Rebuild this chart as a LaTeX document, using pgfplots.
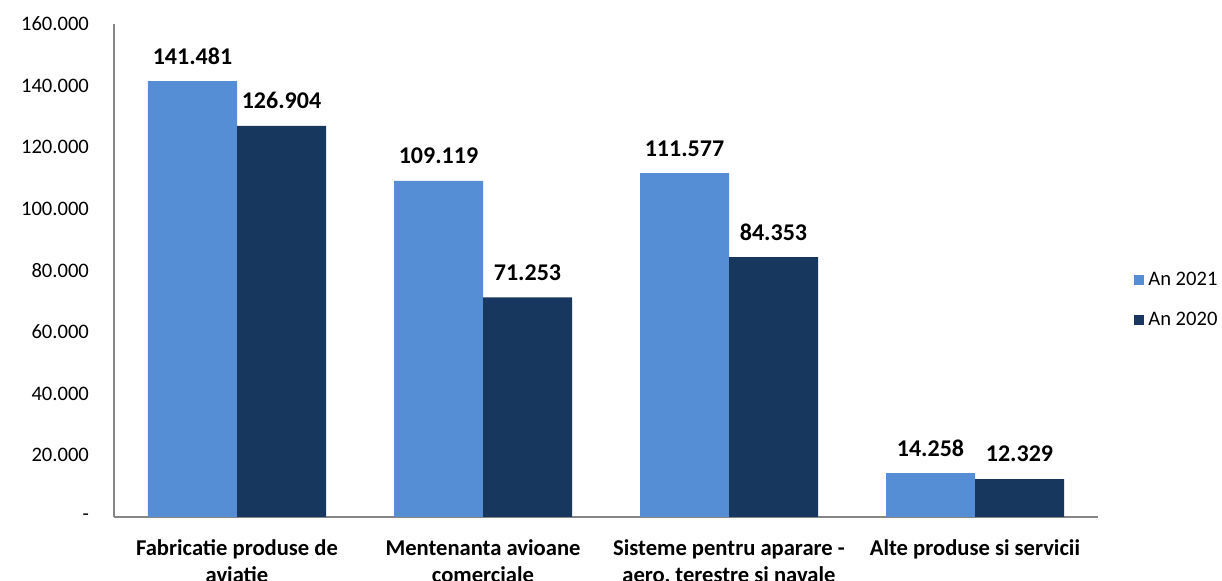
\documentclass[border=0pt]{standalone}
\usepackage{fontspec}
\setmainfont{Carlito}
\usepackage{pgfplots}
\pgfplotsset{compat=1.18}

\definecolor{an2021}{HTML}{558ED5}
\definecolor{an2020}{HTML}{17375E}
\definecolor{axisgray}{HTML}{868686}

\begin{document}
\begin{tikzpicture}
  \begin{axis}[
    name=ax,
    at={(0,0)}, anchor=south west,
    scale only axis,
    width=492pt, height=246.5pt,
    ybar=0pt, bar width=44.5pt,
    xmin=0.5, xmax=4.5,
    ymin=0, ymax=160000,
    axis lines=left,
    axis line style={-, draw=axisgray, line width=0.6pt},
    major tick length=0pt,
    scaled y ticks=false,
    ytick={0,20000,40000,60000,80000,100000,120000,140000,160000},
    yticklabels={-,20.000,40.000,60.000,80.000,100.000,120.000,140.000,160.000},
    yticklabel style={font=\fontsize{10.3}{12}\selectfont, xshift=-9pt},
    xtick={1,2,3,4},
    xticklabels={{Fabricatie produse de\\aviatie}, {Mentenanta avioane\\comerciale}, {Sisteme pentru aparare -\\aero, terestre si navale}, {Alte produse si servicii}},
    xticklabel style={font=\bfseries\fontsize{11.3}{13.5}\selectfont, align=center, yshift=-8pt},
    /pgf/number format/assume math mode=true,
    nodes near coords,
    nodes near coords style={font=\bfseries\fontsize{12}{14}\selectfont, anchor=base, yshift=8.5pt,
      /pgf/number format/.cd, fixed, precision=0, 1000 sep={.}},
    clip=false,
    legend style={at={(1.03,0.44)}, anchor=west, draw=none, fill=none,
      font=\fontsize{10.3}{12}\selectfont, row sep=8pt,
      /tikz/every even column/.append style={column sep=2pt}},
    legend cell align=left,
    legend image code/.code={\fill[#1] (0pt,-2.6pt) rectangle (5.2pt,2.6pt);},
  ]
    \addplot[fill=an2021, draw=none] coordinates {(1,141481) (2,109119) (3,111577) (4,14258)};
    \addlegendentry{An 2021}
    \addplot[fill=an2020, draw=none] coordinates {(1,126904) (2,71253) (3,84353) (4,12329)};
    \addlegendentry{An 2020}
  \end{axis}
  \pgfresetboundingbox
  \path[use as bounding box] (-57pt,-32pt) rectangle (554pt,258.5pt);
\end{tikzpicture}
\end{document}
